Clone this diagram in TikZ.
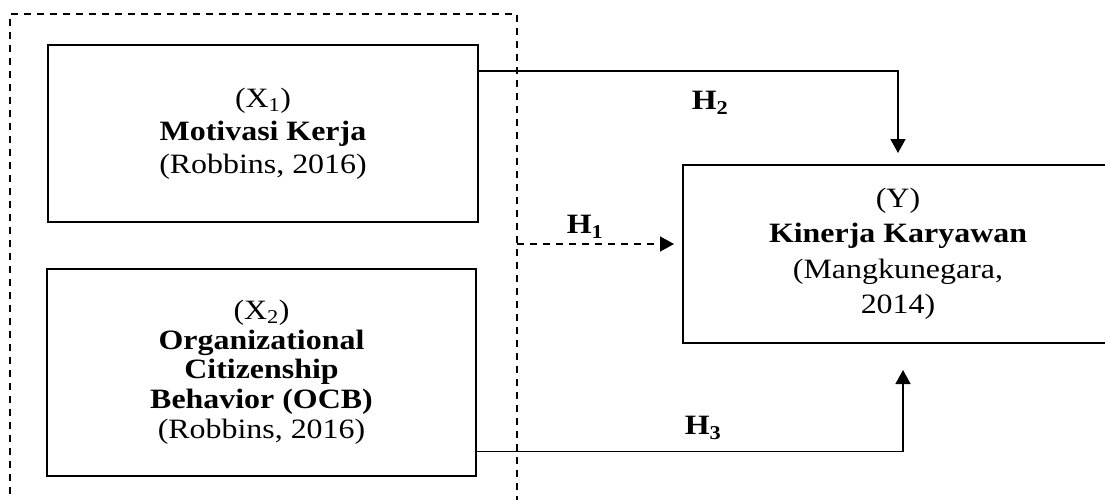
\documentclass[tikz,border=0pt]{standalone}
\usepackage{fontspec}
\setmainfont[FakeStretch=1.14]{Liberation Serif}
\usetikzlibrary{arrows.meta}
\begin{document}
\begin{tikzpicture}[x=1pt,y=-1pt,
  box/.style={draw,line width=2pt,align=center,inner sep=0pt,outer sep=0pt},
  conn/.style={line width=1.5pt},
  tip/.style={-{Triangle[width=15pt,length=14pt]}},
  frame/.style={line width=1.6pt,dash pattern=on 7pt off 6pt},
  hlab/.style={font=\fontsize{28}{30}\selectfont\bfseries}]
\useasboundingbox (0,0) rectangle (1105,499);
\clip (0,0) rectangle (1105,499);
% dashed frame
\draw[frame] (10,520) -- (10,14) -- (517,14) -- (517,520);
% boxes
\node[box,minimum width=430pt,minimum height=177pt,font=\fontsize{28}{33}\selectfont] (x1) at (263,133.5)
  {(X\textsubscript{1})\\\textbf{Motivasi Kerja}\\(Robbins, 2016)};
\node[box,minimum width=429pt,minimum height=207pt,font=\fontsize{28}{29.7}\selectfont] (x2) at (261.5,372)
  {(X\textsubscript{2})\\\textbf{Organizational}\\\textbf{Citizenship}\\\textbf{Behavior (OCB)}\\(Robbins, 2016)};
\node[box,minimum width=430pt,minimum height=178pt,font=\fontsize{28}{35.5}\selectfont] (y) at (898,254)
  {(Y)\\\textbf{Kinerja Karyawan}\\(Mangkunegara,\\2014)};
% connectors
\path (x1.north east) ++(0,26) coordinate (h2a);
\coordinate (h2e) at (898,153);
\draw[conn,tip] (h2a) -| (h2e);
\coordinate (h1a) at (517,244);
\coordinate (h1e) at (674,244);
\draw[conn,tip,dash pattern=on 7pt off 6pt] (h1a) -- (h1e);
\path (x2.south east) ++(0,-24) coordinate (h3a);
\coordinate (h3e) at (903,370);
\draw[conn,tip] (h3a) -| (h3e);
% labels
\node[hlab] (l2) at (710,103) {H\textsubscript{2}};
\node[hlab] (l1) at (585,227) {H\textsubscript{1}};
\node[hlab] (l3) at (703,428) {H\textsubscript{3}};
\end{tikzpicture}
\end{document}
